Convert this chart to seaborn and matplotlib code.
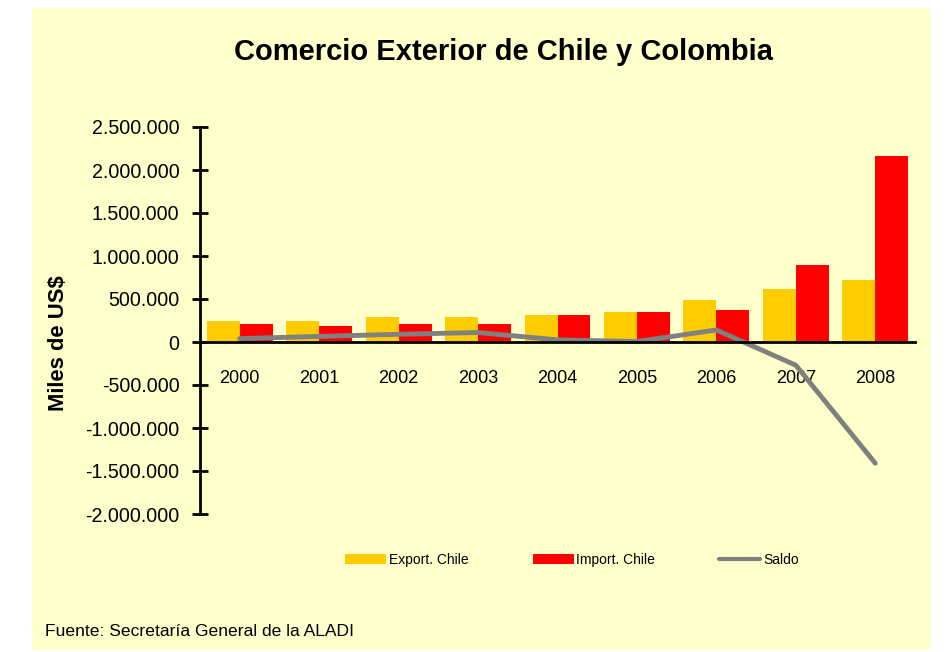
import numpy as np
import pandas as pd
import matplotlib
matplotlib.use('Agg')
import matplotlib.pyplot as plt
import seaborn as sns
from matplotlib.patches import Rectangle, Patch
from matplotlib.lines import Line2D
from matplotlib.ticker import FuncFormatter, FixedLocator

# Valores (miles de US$)
years = ['2000', '2001', '2002', '2003', '2004', '2005', '2006', '2007', '2008']
export_chile = [249000, 249000, 288000, 288000, 311000, 350000, 494000, 615000, 716000]
import_chile = [210000, 191000, 210000, 210000, 311000, 350000, 370000, 899000, 2163000]
saldo = [40000, 65000, 90000, 110000, 25000, 5000, 140000, -270000, -1410000]

series_names = ['Export. Chile', 'Import. Chile', 'Saldo']
colors = ['#FFCC00', '#FF0000', '#808080']


def fmt_miles(v, pos):
    return f'{v:,.0f}'.replace(',', '.')


def main():
    sns.set_style('white')
    plt.rcParams['font.family'] = ['Liberation Sans', 'DejaVu Sans']
    plt.rcParams['text.color'] = 'black'
    plt.rcParams['xtick.color'] = 'black'
    plt.rcParams['ytick.color'] = 'black'
    plt.rcParams['axes.labelcolor'] = 'black'

    df = pd.DataFrame({
        'year': years * 2,
        'value': export_chile + import_chile,
        'serie': [series_names[0]] * len(years) + [series_names[1]] * len(years),
    })

    fig = plt.figure(figsize=(9.47, 6.52), dpi=100)
    fig.patch.set_facecolor('white')
    # fondo amarillo del area del grafico
    fig.patches.append(Rectangle((32 / 947, 1 - 650 / 652), 898 / 947, 642 / 652,
                                 transform=fig.transFigure, facecolor='#FFFFCC',
                                 edgecolor='none', zorder=-10))

    ax = fig.add_axes([200 / 947, 1 - 514 / 652, 715 / 947, 387 / 652])
    ax.set_facecolor('none')

    sns.barplot(data=df, x='year', y='value', hue='serie', order=years,
                palette=colors[:2], saturation=1, width=0.83, linewidth=0,
                ax=ax, legend=False)
    ax.plot(np.arange(len(years)), saldo, color=colors[2], lw=3.5,
            solid_joinstyle='round', solid_capstyle='round', zorder=5)

    ax.set_xlim(-0.5, len(years) - 0.5)
    ax.set_ylim(-2000000, 2500000)
    ax.set_yticks(np.arange(-2000000, 2500001, 500000))
    ax.yaxis.set_major_formatter(FuncFormatter(fmt_miles))

    for s in ['top', 'right']:
        ax.spines[s].set_visible(False)
    ax.spines['bottom'].set_position(('data', 0))
    for s in ['left', 'bottom']:
        ax.spines[s].set_linewidth(2)
        ax.spines[s].set_color('black')
        ax.spines[s].set_zorder(6)

    ax.xaxis.set_minor_locator(FixedLocator(np.arange(-0.5, len(years), 1)))
    ax.tick_params(axis='x', which='major', length=0, pad=20, labelsize=13)
    ax.tick_params(axis='x', which='minor', direction='inout', length=11, width=2)
    ax.tick_params(axis='y', direction='inout', length=11.5, width=2, pad=9, labelsize=14.1)
    ax.tick_params(left=True, bottom=True)

    ax.set_xlabel('')
    ax.set_ylabel('Miles de US$', fontsize=15.8, fontweight='bold')
    ax.yaxis.set_label_coords(-0.183, 0.442)

    fig.text(0.532, 1 - 52 / 652, 'Comercio Exterior de Chile y Colombia',
             ha='center', va='center', fontsize=21, fontweight='bold')
    fig.text(45 / 947, 1 - 631 / 652, 'Fuente: Secretaría General de la ALADI',
             ha='left', va='center', fontsize=12.6)

    handles = [Patch(facecolor=colors[0], edgecolor='none'),
               Patch(facecolor=colors[1], edgecolor='none'),
               Line2D([0], [0], color=colors[2], lw=3)]
    fig.legend(handles, series_names, loc='center', bbox_to_anchor=(0.604, 1 - 560 / 652),
               ncol=3, frameon=False, fontsize=10, handlelength=2.95, handleheight=0.75,
               handletextpad=0.2, columnspacing=4.6)

    fig.savefig('out.png', dpi=100)


if __name__ == '__main__':
    main()
